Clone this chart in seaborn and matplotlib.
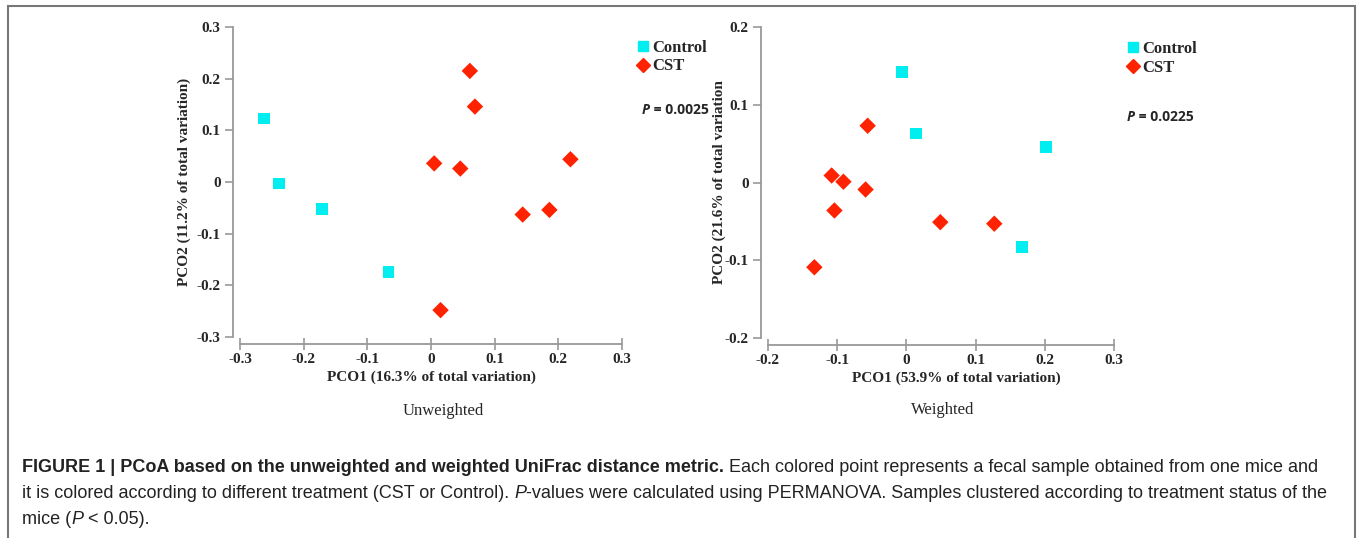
import numpy as np
import pandas as pd
import matplotlib
matplotlib.use('Agg')
import matplotlib.pyplot as plt
import seaborn as sns
from matplotlib.patches import Rectangle
from matplotlib.lines import Line2D

# PCoA coordinates
unw_control_x = [-0.262, -0.239, -0.171, -0.067]
unw_control_y = [0.123, -0.003, -0.052, -0.174]
unw_cst_x = [0.061, 0.069, 0.005, 0.046, 0.219, 0.144, 0.186, 0.015]
unw_cst_y = [0.215, 0.146, 0.036, 0.026, 0.044, -0.063, -0.054, -0.248]

w_control_x = [-0.006, 0.014, 0.202, 0.167]
w_control_y = [0.142, 0.063, 0.046, -0.083]
w_cst_x = [-0.056, -0.108, -0.091, -0.059, -0.104, 0.049, 0.127, -0.133]
w_cst_y = [0.073, 0.009, 0.001, -0.009, -0.036, -0.051, -0.053, -0.109]

groups = ['Control', 'CST']
unw_ticks_x = [-0.3, -0.2, -0.1, 0, 0.1, 0.2, 0.3]
unw_ticks_y = [-0.3, -0.2, -0.1, 0, 0.1, 0.2, 0.3]
w_ticks_x = [-0.2, -0.1, 0, 0.1, 0.2, 0.3]
w_ticks_y = [-0.2, -0.1, 0, 0.1, 0.2]


def make_df(cx, cy, tx, ty):
    return pd.DataFrame({
        'PCO1': cx + tx,
        'PCO2': cy + ty,
        'Group': ['Control'] * len(cx) + ['CST'] * len(tx),
    })


df_unw = make_df(unw_control_x, unw_control_y, unw_cst_x, unw_cst_y)
df_w = make_df(w_control_x, w_control_y, w_cst_x, w_cst_y)

sns.set_theme(style='white')
plt.rcParams['font.family'] = ['Liberation Serif', 'DejaVu Serif']

palette = {'Control': '#00EEF0', 'CST': '#FF2200'}
markers = {'Control': 's', 'CST': 'D'}
SERIF = ['Liberation Serif', 'DejaVu Serif']
SANS = ['Liberation Sans', 'DejaVu Sans']
OPEN = ['Open Sans', 'DejaVu Sans']

W, H = 1357, 538
fig = plt.figure(figsize=(W / 100, H / 100), dpi=100)


def px_axes(l, t, r, b):
    return fig.add_axes([l / W, 1 - b / H, (r - l) / W, (b - t) / H])


def draw_panel(ax, df, xt, yt, xlabel, ylabel):
    sns.scatterplot(data=df, x='PCO1', y='PCO2', hue='Group', style='Group',
                    palette=palette, markers=markers, s=70, linewidth=0,
                    legend=False, ax=ax, clip_on=False)
    ax.set_xlim(xt[0], xt[-1])
    ax.set_ylim(yt[0], yt[-1])
    ax.set_xticks(xt)
    ax.set_yticks(yt)
    sns.despine(ax=ax, offset=5, trim=True)
    ax.set_xticklabels(['0' if v == 0 else f'{v:g}' for v in xt],
                       fontsize=11, fontweight='bold', family=SERIF)
    ax.set_yticklabels(['0' if v == 0 else f'{v:g}' for v in yt],
                       fontsize=11, fontweight='bold', family=SERIF)
    for sp in ['left', 'bottom']:
        ax.spines[sp].set_color('#999999')
        ax.spines[sp].set_linewidth(1.3)
    ax.tick_params(axis='y', direction='out', length=6, width=1.2,
                   color='#999999', pad=3, left=True)
    ax.tick_params(axis='x', direction='inout', length=9, width=1.2,
                   color='#999999', pad=2, bottom=True)
    ax.set_xlabel(xlabel, fontsize=11, fontweight='bold', family=SERIF, labelpad=3)
    ax.set_ylabel(ylabel, fontsize=11, fontweight='bold', family=SERIF, labelpad=4)


ax1 = px_axes(240, 27, 622, 337)
draw_panel(ax1, df_unw, unw_ticks_x, unw_ticks_y,
           'PCO1 (16.3% of total variation)', 'PCO2 (11.2% of total variation)')
ax1.yaxis.set_label_coords(-0.129, 0.5)
ax2 = px_axes(768, 27, 1114, 338)
draw_panel(ax2, df_w, w_ticks_x, w_ticks_y,
           'PCO1 (53.9% of total variation)', 'PCO2 (21.6% of total variation')
ax2.xaxis.set_label_coords(0.545, -0.107)
ax2.yaxis.set_label_coords(-0.122, 0.5)


def legend_at(ax, x, y):
    handles = [Line2D([], [], linestyle='none', marker=markers[g], color=palette[g],
                      markersize=7 if g == 'Control' else 7.5) for g in groups]
    ax.legend(handles, groups, loc='upper left', bbox_to_anchor=(x / W, 1 - y / H),
              bbox_transform=fig.transFigure, frameon=False, handletextpad=0.15,
              handlelength=0.8, labelspacing=0.15, borderpad=0, borderaxespad=0,
              prop={'family': SERIF, 'weight': 'bold', 'size': 12})


legend_at(ax1, 636, 40)
legend_at(ax2, 1126, 41)

fig.canvas.draw()
renderer = fig.canvas.get_renderer()


def p_text(x, y, val):
    t = fig.text(x / W, 1 - y / H, 'P', fontsize=10, fontweight='bold',
                 fontstyle='italic', family=OPEN, va='center', ha='left')
    w = t.get_window_extent(renderer).width
    fig.text((x + w) / W, 1 - y / H, ' = ' + val, fontsize=10, fontweight='bold',
             family=OPEN, va='center', ha='left')


p_text(642, 110, '0.0025')
p_text(1127, 117, '0.0225')

fig.text(443 / W, 1 - 411 / H, 'Unweighted', fontsize=12, family=SERIF,
         ha='center', va='center')
fig.text(943 / W, 1 - 410 / H, 'Weighted', fontsize=12, family=SERIF,
         ha='center', va='center')

# caption, drawn piece by piece so bold / italic parts sit inline
caption = [
    [('FIGURE 1 | PCoA based on the unweighted and weighted UniFrac distance metric.', 'bold', 'normal'),
     (' Each colored point represents a fecal sample obtained from one mice and', 'normal', 'normal')],
    [('it is colored according to different treatment (CST or Control). ', 'normal', 'normal'),
     ('P', 'normal', 'italic'),
     ('-values were calculated using PERMANOVA. Samples clustered according to treatment status of the', 'normal', 'normal')],
    [('mice (', 'normal', 'normal'), ('P', 'normal', 'italic'), (' < 0.05).', 'normal', 'normal')],
]
line_y = [467, 493, 519]
for segs, yy in zip(caption, line_y):
    x = 22
    for txt, wt, st in segs:
        t = fig.text(x / W, 1 - yy / H, txt, fontsize=13, fontweight=wt, fontstyle=st,
                     family=SANS, color='#222222', va='center', ha='left')
        bb = t.get_window_extent(renderer)
        x += bb.width

fig.patches.append(Rectangle((7.5 / W, -0.1), (1355 - 7.5) / W, 1.1 - 6.5 / H,
                             transform=fig.transFigure, fill=False,
                             edgecolor='#777777', linewidth=1.5))

fig.savefig('out.png', dpi=100)
